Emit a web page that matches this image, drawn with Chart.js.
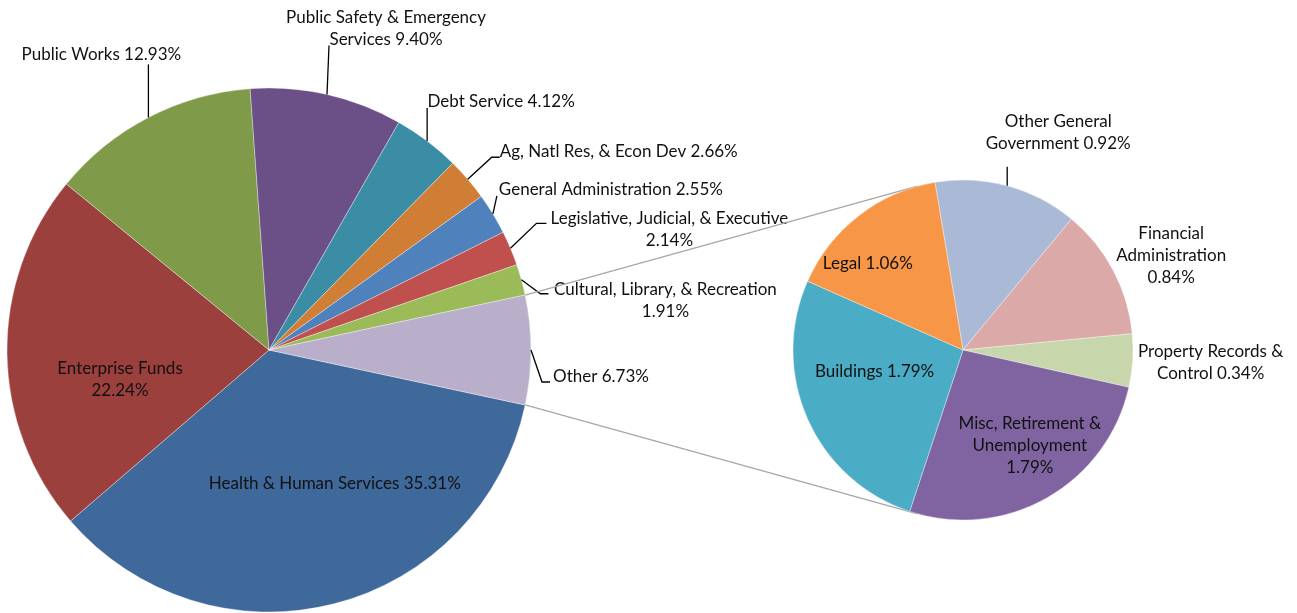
<!DOCTYPE html>
<html>
<head>
<meta charset="utf-8">
<script src="https://cdn.jsdelivr.net/npm/chart.js@4/dist/chart.umd.min.js"></script>
<style>
html, body { margin: 0; padding: 0; background: #fff; }
#cadre { position: relative; width: 1297px; height: 613px; }
.couche { position: absolute; left: 0; top: 0; width: 1297px; height: 613px; }
</style>
</head>
<body>
<div id="cadre">
  <div class="couche"><canvas id="principal"></canvas></div>
  <div class="couche"><canvas id="secondaire"></canvas></div>
</div>
<script>
// données du camembert principal (le dernier = "Other", détaillé à droite)
const categoriesPrincipal = [
  "Health & Human Services", "Enterprise Funds", "Public Works",
  "Public Safety & Emergency Services", "Debt Service", "Ag, Natl Res, & Econ Dev",
  "General Administration", "Legislative, Judicial, & Executive",
  "Cultural, Library, & Recreation", "Other"
];
const valeursPrincipal = [35.31, 22.24, 12.93, 9.40, 4.12, 2.66, 2.55, 2.14, 1.91, 6.73];
const couleursPrincipal = [
  "#3f699b", "#9b403d", "#7f9a48", "#6a5086", "#3b8ca5",
  "#d07e35", "#4f81bd", "#c0504d", "#9bbb59", "#b9afcb"
];

// données du camembert secondaire (détail de "Other")
const categoriesSecondaire = [
  "Other General Government", "Financial Administration", "Property Records & Control",
  "Misc, Retirement & Unemployment", "Buildings", "Legal"
];
const valeursSecondaire = [0.92, 0.84, 0.34, 1.79, 1.79, 1.06];
const couleursSecondaire = ["#aab9d6", "#daa9a8", "#c7d6ab", "#8064a2", "#4bacc6", "#f79646"];

// coupures de lignes des étiquettes (nb de mots par ligne)
const coupuresPrincipal = [[], [2], [], [4], [], [], [], [4], [4], []];
const coupuresSecondaire = [[2], [1, 1], [3], [3, 1], [], []];

// placement des étiquettes : décalage depuis le milieu du bord de la tranche + trait de rappel
const placementPrincipal = [
  { dx: 1, dy: -120 },
  { dx: 113, dy: 26 },
  { dx: -47, dy: -63, guide: [[0, -53]] },
  { dx: 59, dy: -66, guide: [[2, -49]] },
  { dx: 74, dy: -40, guide: [[0, -33]] },
  { dx: 151, dy: -28, guide: [[24, -22], [32, -22]] },
  { dx: 118, dy: -24, guide: [[4, -18]] },
  { dx: 159, dy: -19, guide: [[26, -25], [36, -25]] },
  { dx: 144, dy: 21, guide: [[19, 14], [27, 14]] },
  { dx: 70, dy: 27, guide: [[11, 32], [19, 32]] }
];
const placementSecondaire = [
  { dx: 51, dy: -53, guide: [[0, -19]] },
  { dx: 58, dy: -15 },
  { dx: 78, dy: 2 },
  { dx: -17, dy: -52 },
  { dx: 67, dy: -47 },
  { dx: 9, dy: 48 }
];

const policeTexte = '17px Lato, "Open Sans", sans-serif';
const hauteurLigne = 22;

function decouper(texte, coupures) {
  const mots = texte.split(" ");
  const lignes = [];
  let debut = 0;
  for (let i = 0; i < coupures.length; i++) {
    lignes.push(mots.slice(debut, debut + coupures[i]).join(" "));
    debut += coupures[i];
  }
  lignes.push(mots.slice(debut).join(" "));
  return lignes;
}

function etiquettes(categories, valeurs, coupures, placement) {
  return {
    id: "etiquettes",
    afterDatasetsDraw(chart) {
      const ctx = chart.ctx;
      const arcs = chart.getDatasetMeta(0).data;
      ctx.save();
      ctx.font = policeTexte;
      ctx.fillStyle = "#111";
      ctx.strokeStyle = "#000";
      ctx.lineWidth = 1.3;
      ctx.textAlign = "center";
      ctx.textBaseline = "middle";
      arcs.forEach((arc, i) => {
        const p = arc.getProps(["x", "y", "startAngle", "endAngle", "outerRadius"], true);
        const milieu = (p.startAngle + p.endAngle) / 2;
        const bx = p.x + Math.cos(milieu) * p.outerRadius;
        const by = p.y + Math.sin(milieu) * p.outerRadius;
        const pl = placement[i];
        if (pl.guide) {
          ctx.beginPath();
          ctx.moveTo(bx, by);
          pl.guide.forEach(pt => ctx.lineTo(bx + pt[0], by + pt[1]));
          ctx.stroke();
        }
        const texte = categories[i] + " " + valeurs[i].toFixed(2) + "%";
        const lignes = decouper(texte, coupures[i]);
        const y0 = by + pl.dy - (lignes.length - 1) * hauteurLigne / 2;
        lignes.forEach((l, k) => ctx.fillText(l, bx + pl.dx, y0 + k * hauteurLigne));
      });
      ctx.restore();
    }
  };
}

const totalPrincipal = valeursPrincipal.reduce((a, b) => a + b, 0);
// "Other" centré sur 3 heures, comme dans Excel
const rotationPrincipal = 90 + valeursPrincipal[valeursPrincipal.length - 1] / totalPrincipal * 180;

const graphPrincipal = new Chart(document.getElementById("principal"), {
  type: "pie",
  data: {
    labels: categoriesPrincipal,
    datasets: [{
      data: valeursPrincipal,
      backgroundColor: couleursPrincipal,
      borderColor: "rgba(255,255,255,0.35)",
      borderWidth: 1
    }]
  },
  options: {
    responsive: true,
    maintainAspectRatio: false,
    animation: false,
    rotation: rotationPrincipal,
    radius: 262,
    layout: { padding: { left: 7, top: 88, right: 766, bottom: 1 } },
    plugins: { legend: { display: false }, tooltip: { enabled: false } }
  },
  plugins: [etiquettes(categoriesPrincipal, valeursPrincipal, coupuresPrincipal, placementPrincipal)]
});

// traits de liaison entre la tranche "Other" et le camembert secondaire (tangentes)
const liaison = {
  id: "liaison",
  beforeDatasetsDraw(chart) {
    const autre = graphPrincipal.getDatasetMeta(0).data[valeursPrincipal.length - 1];
    const a = autre.getProps(["x", "y", "startAngle", "endAngle", "outerRadius"], true);
    const s = chart.getDatasetMeta(0).data[0].getProps(["x", "y", "outerRadius"], true);
    const ctx = chart.ctx;
    ctx.save();
    ctx.strokeStyle = "#a6a6a6";
    ctx.lineWidth = 1.3;
    [[a.startAngle, 1], [a.endAngle, -1]].forEach(([ang, sens]) => {
      const px = a.x + Math.cos(ang) * a.outerRadius;
      const py = a.y + Math.sin(ang) * a.outerRadius;
      const d = Math.hypot(px - s.x, py - s.y);
      const phi = Math.atan2(py - s.y, px - s.x);
      const t = phi + sens * Math.acos(s.outerRadius / d);
      ctx.beginPath();
      ctx.moveTo(px, py);
      ctx.lineTo(s.x + Math.cos(t) * s.outerRadius, s.y + Math.sin(t) * s.outerRadius);
      ctx.stroke();
    });
    ctx.restore();
  }
};

new Chart(document.getElementById("secondaire"), {
  type: "pie",
  data: {
    labels: categoriesSecondaire,
    datasets: [{
      data: valeursSecondaire,
      backgroundColor: couleursSecondaire,
      borderColor: "rgba(255,255,255,0.35)",
      borderWidth: 1
    }]
  },
  options: {
    responsive: true,
    maintainAspectRatio: false,
    animation: false,
    rotation: -9.5,
    radius: 170,
    layout: { padding: { left: 793, top: 180, right: 164, bottom: 93 } },
    plugins: { legend: { display: false }, tooltip: { enabled: false } }
  },
  plugins: [liaison, etiquettes(categoriesSecondaire, valeursSecondaire, coupuresSecondaire, placementSecondaire)]
});
</script>
</body>
</html>
